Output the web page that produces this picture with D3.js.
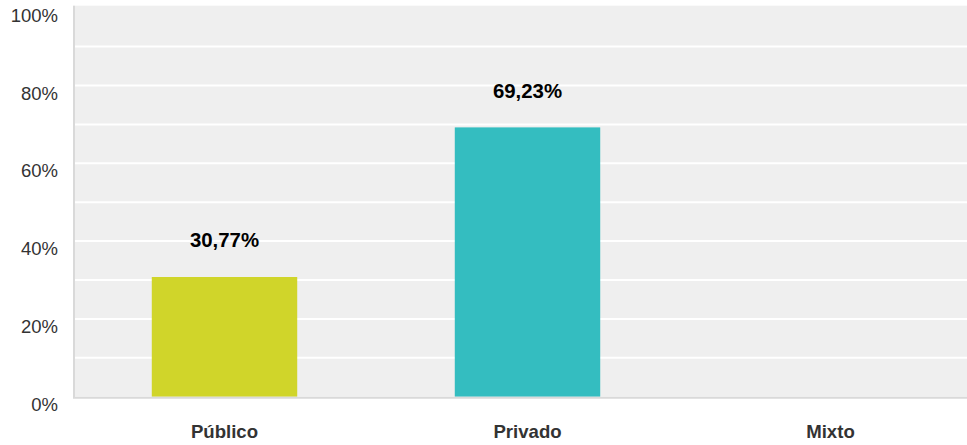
<!DOCTYPE html>
<html><head><meta charset="utf-8">
<script src="https://cdn.jsdelivr.net/npm/d3@7"></script>
<style>body{margin:0;background:#fff;}svg{display:block;font-family:"Liberation Sans",Arial,sans-serif;}</style>
</head><body>
<svg id="c" width="967" height="445"></svg>
<script>
const categories = ["Público", "Privado", "Mixto"];
const values = [30.77, 69.23, 0];
const valueLabels = ["30,77%", "69,23%", ""];
const colors = ["#d0d52a", "#34bdc0", "#999999"];
const yTicks = [0, 20, 40, 60, 80, 100];
const gridTicks = [0, 10, 20, 30, 40, 50, 60, 70, 80, 90, 100];

(function () {
const svg = d3.select("#c");
const pLeft = 73, pRight = 982, pTop = 7.7, pBottom = 396.7;
const x = d3.scaleBand().domain(categories).range([pLeft, pRight]).paddingInner(0.52).paddingOuter(0.26);
const y = d3.scaleLinear().domain([0, 100]).range([pBottom, pTop]);

svg.append("rect").attr("x", pLeft).attr("y", pTop - 2).attr("width", 967 - pLeft).attr("height", pBottom - pTop + 2).attr("fill", "#efefef");
svg.append("g").selectAll("line").data(gridTicks.filter(d => d > 0 && d < 100)).join("line")
  .attr("x1", pLeft).attr("x2", 967).attr("y1", d => y(d)).attr("y2", d => y(d))
  .attr("stroke", "#ffffff").attr("stroke-width", 2);

svg.append("g").selectAll("rect").data(categories).join("rect")
  .attr("x", d => x(d)).attr("width", x.bandwidth())
  .attr("y", (d, i) => y(values[i])).attr("height", (d, i) => pBottom - y(values[i]))
  .attr("fill", (d, i) => colors[i]);

svg.append("line").attr("x1", pLeft + 1).attr("x2", pLeft + 1).attr("y1", pTop - 2).attr("y2", pBottom + 1).attr("stroke", "#d9d9d9").attr("stroke-width", 2);
svg.append("line").attr("x1", pLeft).attr("x2", 967).attr("y1", pBottom + 1).attr("y2", pBottom + 1).attr("stroke", "#d9d9d9").attr("stroke-width", 2);

svg.append("g").selectAll("text").data(yTicks).join("text")
  .attr("x", 58).attr("y", d => y(d) + 14).attr("text-anchor", "end")
  .attr("font-size", 18.5).attr("fill", "#333").text(d => d + "%");

svg.append("g").selectAll("text").data(categories).join("text")
  .attr("x", d => x(d) + x.bandwidth() / 2).attr("y", 438.3).attr("text-anchor", "middle")
  .attr("font-size", 18.6).attr("font-weight", "bold").attr("fill", "#333").text(d => d);

svg.append("g").selectAll("text").data(categories).join("text")
  .attr("x", d => x(d) + x.bandwidth() / 2).attr("y", (d, i) => y(values[i]) - 29.8).attr("text-anchor", "middle")
  .attr("font-size", 20.4).attr("font-weight", "bold").attr("fill", "#000").text((d, i) => valueLabels[i]);
})();
</script>
</body></html>
